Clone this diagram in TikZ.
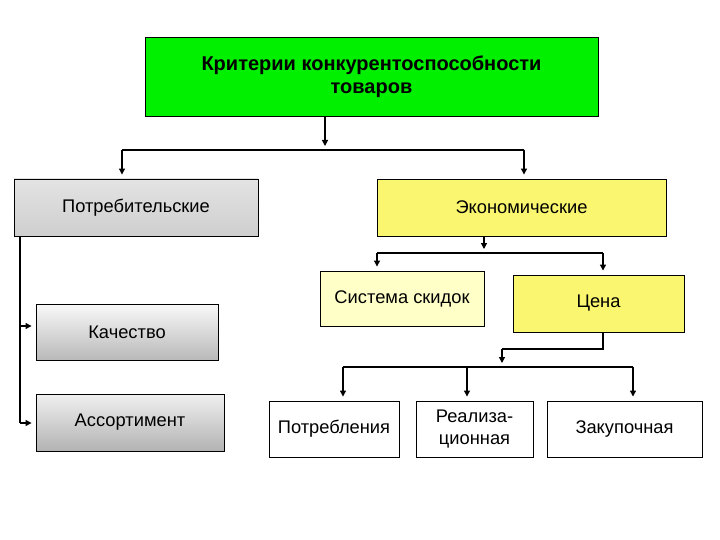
\documentclass[tikz,border=0pt]{standalone}
\usepackage{fontspec}
\setmainfont{Liberation Sans}
\usetikzlibrary{arrows.meta}

\definecolor{critgreen}{RGB}{0,240,0}
\definecolor{econyellow}{RGB}{250,246,112}
\definecolor{paleyellow}{RGB}{255,255,200}

\begin{document}
\begin{tikzpicture} [x=1pt, y=-1pt,
  box/.style={draw=black, line width=0.9pt, inner sep=2pt, align=center,
              font=\fontsize{18.3}{22}\selectfont},
  line/.style={black, line width=1.2pt},
  arr/.style={line, -{Triangle[length=6pt,width=6pt]}, shorten >=4pt}]

\useasboundingbox (0,0) rectangle (720,540);

% boxes
\node[box, fill=critgreen, minimum width=453, minimum height=79, font=\fontsize{20}{23}\selectfont\bfseries]
  (crit) at (371.5,77) {Критерии конкурентоспособности\\товаров};
\node[box, top color=gray!22, middle color=gray!8, bottom color=gray!38, minimum width=244, minimum height=57]
  (potr) at (136,207.5) {Потребительские};
\node[box, fill=econyellow, minimum width=289, minimum height=57]
  (econ) at (521.5,207.5) {Экономические};
\node[box, fill=paleyellow, minimum width=164, minimum height=55]
  (skid) at (402,298.5) {Система скидок};
\node[box, fill=econyellow, minimum width=171, minimum height=57]
  (cena) at (598.5,303.5) {Цена};
\node[box, top color=gray!5, bottom color=gray!55, minimum width=182, minimum height=56]
  (kach) at (127,332) {Качество};
\node[box, top color=gray!12, bottom color=gray!60, minimum width=188, minimum height=57]
  (assort) at (130,422.5) {Ассортимент};
\node[box, fill=white, minimum width=130, minimum height=56]
  (potrebl) at (334,429) {Потребления};
\node[box, fill=white, minimum width=117, minimum height=56]
  (realiz) at (474.5,429) {Реализа-\\ционная};
\node[box, fill=white, minimum width=155, minimum height=56]
  (zakup) at (624.5,429) {Закупочная};

% top level
\coordinate (t) at (325,150);
\coordinate (pl) at (122,150);
\coordinate (pr) at (524,150);
\draw[arr] (crit.south -| t) -- (t);
\draw[line] (pl) -- (pr);
\draw[arr] (pl) -- (pl |- potr.north);
\draw[arr] (pr) -- (pr |- econ.north);

% economic
\coordinate (e) at (484,253);
\coordinate (el) at (377,253);
\coordinate (er) at (603,253);
\draw[arr] (econ.south -| e) -- (e);
\draw[line] (el) -- (er);
\draw[arr] (el) -- (el |- skid.north);
\draw[arr] (er) -- (er |- cena.north);

% price
\coordinate (c1) at (603,349);
\coordinate (c2) at (502,349);
\coordinate (c3) at (502,367);
\coordinate (cl) at (343,367);
\coordinate (cm) at (467,367);
\coordinate (cr) at (633,367);
\draw[line] (cena.south -| c1) -- (c1) -- (c2);
\draw[arr] (c2) -- (c3);
\draw[line] (cl) -- (cr);
\draw[arr] (cl) -- (cl |- potrebl.north);
\draw[arr] (cm) -- (cm |- realiz.north);
\draw[arr] (cr) -- (cr |- zakup.north);

% consumer
\coordinate (k) at (20,326);
\coordinate (a) at (20,423);
\draw[line] (potr.south -| a) -- (a);
\draw[arr] (k) -- (k -| kach.west);
\draw[arr] (a) -- (a -| assort.west);

\end{tikzpicture}
\end{document}
